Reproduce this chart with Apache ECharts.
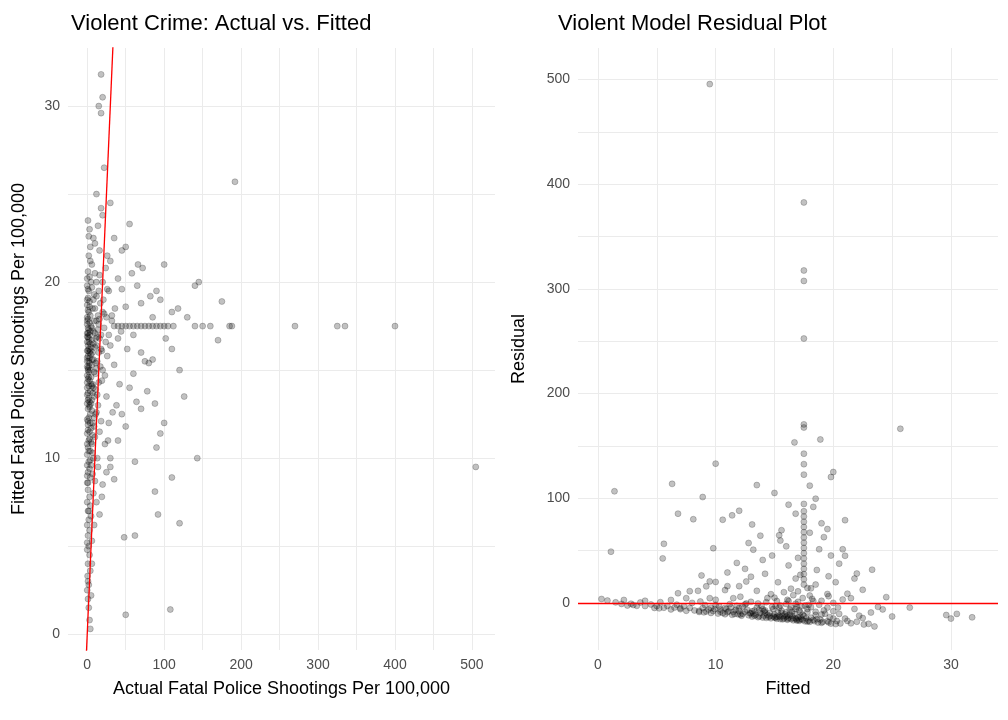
<!DOCTYPE html>
<html><head><meta charset="utf-8">
<script src="https://cdn.jsdelivr.net/npm/echarts@6/dist/echarts.min.js"></script>
<style>html,body{margin:0;background:#fff}#c{width:1008px;height:720px}</style>
</head><body><div id="c"></div>
<script>
// [actual, fitted]
const outliers = [[505,9.5],[400,17.5],[335,17.5],[325,17.5],[270,17.5],[192,25.7],[185,17.5],[188,17.5],[170,16.7],[175,18.9],[145,20],[140,19.8],[143,10],[140,17.5],[120,6.3],[108,1.4],[50,1.1],[126,13.5],[110,8.9],[112,17.5],[105,17.5],[100,17.5],[95,17.5],[90,17.5],[85,17.5],[80,17.5],[75,17.5],[70,17.5],[65,17.5],[60,17.5],[55,17.5],[92,6.8],[88,8.1],[62,5.6],[95,11.4],[90,10.6],[100,12],[80,15.4],[75,15.5],[88,13.1],[78,13.8],[70,16],[55,23.3],[50,22],[45,21.8],[35,22.5],[30,24.5],[22,26.5],[20,30.5],[18,31.8],[18,29.6],[15,30],[14,23.2],[12,25],[10,22.2],[90,19.5],[85,18],[95,19],[100,21],[110,18.3],[70,18.8],[65,19.8],[60,17],[40,20.2],[45,19.6],[50,18.6],[40,16.8],[35,15.3],[45,12.5],[40,11],[30,10],[28,12],[25,13.5],[55,14],[50,11.8],[60,14.8],[30,9.5],[35,8.8],[25,9.2],[20,8.5],[48,5.5],[110,16.2],[120,15],[130,18],[82,19.2],[66,21],[58,20.5],[52,16.2],[42,14.2],[38,13],[32,17.8],[28,19.5],[26,21.5],[24,20.8],[22,18.2],[20,23.8],[18,24.2],[16,21.8],[36,18.5],[44,17.2],[33,12.6],[27,11],[23,10.8],[19,7.8],[16,6.8],[62,9.8],[70,12.8],[85,15.6],[102,16.8],[118,18.5],[150,17.5],[160,17.5],[72,20.8],[64,13.2]];
const lowFitted = [[4,0.3],[3,0.8],[2,1.5],[1,2],[5,2.2],[2,2.8],[0.5,3.3],[4,3.6],[1,4],[3,4.5],[0,4.8],[2,5],[6,5.3],[1,5.6],[3,5.9],[0,6.2],[2,6.5],[5,6.7],[1,7],[4,7.3],[0,7.5],[3,7.8],[8,8],[1,8.2],[0,2.5],[1,3],[0,5.2],[2,7],[6,4],[9,6.2],[12,7.5],[1,8.6],[4,8.9]];
const cluster = [[0,9],[1,9.2],[3,9.4],[5,9.6],[2,9.8],[8,10],[0,10.2],[4,10.4],[1,10.6],[6,10.8],[2,11],[10,11.2],[0,11.4],[3,11.5],[5,11.7],[1,11.9],[7,12],[0,12.2],[2,12.3],[4,12.5],[12,12.6],[1,12.8],[3,13],[0,13.1],[6,13.3],[2,13.4],[9,13.5],[1,13.7],[4,13.8],[0,14],[2,14.1],[7,14.2],[3,14.4],[1,14.5],[5,14.6],[0,14.7],[11,14.8],[2,14.9],[4,15],[1,15.1],[0,15.2],[6,15.3],[3,15.4],[2,15.5],[8,15.6],[0,15.7],[1,15.8],[5,15.9],[3,16],[0,16.1],[2,16.2],[10,16.3],[1,16.4],[4,16.5],[0,16.6],[6,16.7],[2,16.8],[1,16.9],[3,17],[0,17.1],[8,17.2],[2,17.3],[1,17.4],[5,17.5],[0,17.6],[3,17.7],[12,17.8],[1,17.9],[0,18],[4,18.1],[2,18.3],[7,18.5],[0,18.7],[3,18.9],[1,19.1],[9,19.3],[2,19.5],[0,19.8],[5,20],[3,20.3],[1,20.6],[6,21],[2,21.5],[4,22],[8,22.5],[3,23],[15,16],[18,17],[20,15],[14,13],[16,11.5],[13,10],[17,18.8],[22,17.4],[19,14.4],[24,16.6],[12,20],[15,19.5],[25,18],[14,9.5],[10,8.7],[7,9.1],[9,12.3],[11,13.9],[13,15.5],[16,16.8],[21,19],[23,14.7],[26,15.8],[18,12.1],[28,17],[30,16.4],[32,18.1],[6,19.7],[4,21.2],[2,22.6],[1,23.5],[0,8.6],[0,9.6],[0,10.8],[1,11.6],[1,13.3],[0,13.6],[0,14.3],[1,15],[0,15.5],[1,16.1],[0,16.9],[1,17.1],[0,17.8],[1,18.4],[0,19],[1,19.6],[0,20.2],[2,16.6],[3,15.7],[2,14.6],[3,13.2],[4,12],[5,16.3],[6,17.4],[7,16],[8,14],[9,17.8],[10,18.5],[11,16.8],[12,15.1],[3,18.6],[4,17.2],[5,14.2],[6,12.7],[7,11.3],[8,19],[10,20.5],[12,19.2],[14,18.1],[16,20.4],[20,20],[26,19.6],[30,21.2],[35,17.5],[40,17.5],[45,17.5],[50,17.5],[2,15.2],[4,16.1],[6,15.6],[8,16.5],[10,17.1],[12,16.4],[14,17.3],[16,17.9],[18,16.2],[20,18.3],[5,13.1],[7,13.7],[9,14.9],[11,15.4],[3,12.9],[6,14.1],[13,16.9],[15,17.6],[17,15.2],[19,16.1],[1,12.1],[2,10.4],[3,11.1],[4,9.9],[5,10.9],[7,10.3],[9,11.8],[11,12.5],[13,13.6],[15,14.3]];
const points = outliers.concat(lowFitted, cluster);
const residPoints = points.map(p => [p[1], p[0] - p[1]]);
const refLine = [[-1,-1],[40,40]];
const leftXTicks = [0,100,200,300,400,500], leftXGrid = [0,50,100,150,200,250,300,350,400,450,500];
const leftYTicks = [0,10,20,30], leftYGrid = [0,5,10,15,20,25,30];
const rightXTicks = [0,10,20,30], rightXGrid = [0,5,10,15,20,25,30];
const rightYTicks = [0,100,200,300,400,500], rightYGrid = [0,50,100,150,200,250,300,350,400,450,500];

const grey = '#4d4d4d', gridCol = '#ebebeb';
function ax(min,max,labels,grid,name,gap,gi){
  return {gridIndex:gi,min,max,name,nameLocation:'middle',nameGap:gap,
    nameTextStyle:{color:'#000',fontSize:18,fontFamily:'Liberation Sans, Arial'},
    axisLine:{show:false},axisTick:{show:false,customValues:grid},
    axisLabel:{color:grey,fontSize:14,fontFamily:'Liberation Sans, Arial',customValues:labels},
    splitLine:{show:true,lineStyle:{color:gridCol,width:1}}};
}
const dot = {color:'rgba(0,0,0,0.3)',borderColor:'rgba(0,0,0,0.45)',borderWidth:0.6};
const chart = echarts.init(document.getElementById('c'));
chart.setOption({
  animation:false,
  title:[{text:'Violent Crime: Actual vs. Fitted',left:66,top:8,textStyle:{fontSize:22,fontWeight:'normal',color:'#000',fontFamily:'Liberation Sans, Arial'}},
         {text:'Violent Model Residual Plot',left:553,top:8,textStyle:{fontSize:22,fontWeight:'normal',color:'#000',fontFamily:'Liberation Sans, Arial'}}],
  grid:[{left:68,right:513,top:48,bottom:70},{left:578,right:10,top:48,bottom:70}],
  xAxis:[ax(-25,530,leftXTicks,leftXGrid,'Actual Fatal Police Shootings Per 100,000',30,0),
         ax(-1.7,34,rightXTicks,rightXGrid,'Fitted',30,1)],
  yAxis:[ax(-0.9,33.3,leftYTicks,leftYGrid,'Fitted Fatal Police Shootings Per 100,000',40,0),
         ax(-45,530,rightYTicks,rightYGrid,'Residual',50,1)],
  series:[
    {type:'scatter',xAxisIndex:0,yAxisIndex:0,data:points,symbolSize:6,itemStyle:dot},
    {type:'line',xAxisIndex:0,yAxisIndex:0,data:refLine,showSymbol:false,clip:true,lineStyle:{color:'#ff0000',width:1.3}},
    {type:'scatter',xAxisIndex:1,yAxisIndex:1,data:residPoints,symbolSize:6,itemStyle:dot,
     markLine:{silent:true,symbol:'none',label:{show:false},lineStyle:{color:'#ff0000',width:1.3,type:'solid'},data:[{yAxis:0}]}}
  ]
});
</script></body></html>
